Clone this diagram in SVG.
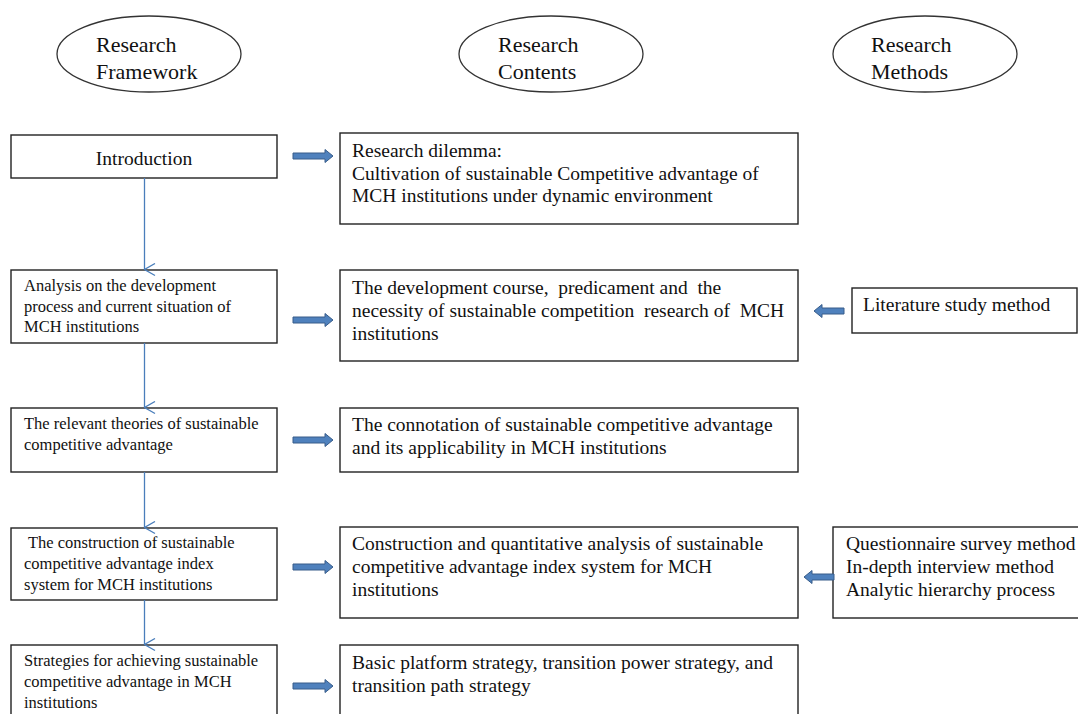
<svg xmlns="http://www.w3.org/2000/svg" width="1078" height="714" viewBox="0 0 1078 714" font-family="'Liberation Serif', 'Times New Roman', 'DejaVu Serif', serif">
<style>
.bg{fill:#fff}
.ell{fill:#fff;stroke:#333;stroke-width:1.3}
.box{fill:#fff;stroke:#222;stroke-width:1.4}
text{font-family:'Liberation Serif','Times New Roman','DejaVu Serif',serif;fill:#111}
.big{font-size:22px}
.mid{font-size:19.5px}
.sm{font-size:16.5px}
.conn{stroke:#4a7ebb;stroke-width:1.3;fill:none}
.blk{fill:#4f81bd;stroke:#385d8a;stroke-width:1}
</style>
<defs>
<marker id="v" markerWidth="14" markerHeight="12" refX="6.5" refY="11" orient="auto" markerUnits="userSpaceOnUse" viewBox="0 0 14 12">
<path d="M0.5,0.5 L6.5,11 L12.5,0.5" fill="none" stroke="#4a7ebb" stroke-width="1.3"/>
</marker>
<path id="ra" d="M0,-3 H32 V-6.5 L40,0 L32,6.5 V3 H0 Z"/>
<path id="la" d="M0,0 L8,-6.5 V-3 H30 V3 H8 V6.5 Z"/>
</defs>
<rect class="bg" x="0" y="0" width="1078" height="714"/>

<g id="hdr-framework">
<ellipse class="ell" cx="149" cy="54" rx="92" ry="38"/>
<text class="t big" x="96" y="52">Research</text>
<text class="t big" x="96" y="79">Framework</text>
</g>
<g id="hdr-contents">
<ellipse class="ell" cx="551" cy="54" rx="92" ry="38"/>
<text class="t big" x="498" y="52">Research</text>
<text class="t big" x="498" y="79">Contents</text>
</g>
<g id="hdr-methods">
<ellipse class="ell" cx="925" cy="54" rx="92" ry="38"/>
<text class="t big" x="871" y="52">Research</text>
<text class="t big" x="871" y="79">Methods</text>
</g>

<g id="f-intro">
<rect class="box" x="11" y="135" width="266" height="43"/>
<text class="t mid" x="144" y="165" text-anchor="middle">Introduction</text>
</g>
<g id="f-analysis">
<rect class="box" x="11" y="270" width="266" height="73"/>
<text class="t sm" x="24" y="291">Analysis on the development</text>
<text class="t sm" x="24" y="312">process and current situation of</text>
<text class="t sm" x="24" y="332">MCH institutions</text>
</g>
<g id="f-theories">
<rect class="box" x="11" y="408" width="266" height="64"/>
<text class="t sm" x="24" y="429">The relevant theories of sustainable</text>
<text class="t sm" x="24" y="450">competitive advantage</text>
</g>
<g id="f-construction">
<rect class="box" x="11" y="528" width="266" height="72"/>
<text class="t sm" x="28" y="548">The construction of sustainable</text>
<text class="t sm" x="24" y="569">competitive advantage index</text>
<text class="t sm" x="24" y="590">system for MCH institutions</text>
</g>
<g id="f-strategies">
<rect class="box" x="11" y="645" width="266" height="80"/>
<text class="t sm" x="24" y="666">Strategies for achieving sustainable</text>
<text class="t sm" x="24" y="687">competitive advantage in MCH</text>
<text class="t sm" x="24" y="708">institutions</text>
</g>

<g id="c-dilemma">
<rect class="box" x="340" y="133" width="458" height="91"/>
<text class="t mid" x="352" y="157">Research dilemma:</text>
<text class="t mid" x="352" y="180">Cultivation of sustainable Competitive advantage of</text>
<text class="t mid" x="352" y="202">MCH institutions under dynamic environment</text>
</g>
<g id="c-development">
<rect class="box" x="340" y="270" width="458" height="91"/>
<text class="t mid" x="352" y="294" xml:space="preserve">The development course,  predicament and  the</text>
<text class="t mid" x="352" y="317" xml:space="preserve">necessity of sustainable competition  research of  MCH</text>
<text class="t mid" x="352" y="340">institutions</text>
</g>
<g id="c-connotation">
<rect class="box" x="340" y="408" width="458" height="64"/>
<text class="t mid" x="352" y="431">The connotation of sustainable competitive advantage</text>
<text class="t mid" x="352" y="454">and its applicability in MCH institutions</text>
</g>
<g id="c-construction">
<rect class="box" x="340" y="527" width="458" height="91"/>
<text class="t mid" x="352" y="550">Construction and quantitative analysis of sustainable</text>
<text class="t mid" x="352" y="573">competitive advantage index system for MCH</text>
<text class="t mid" x="352" y="596">institutions</text>
</g>
<g id="c-strategy">
<rect class="box" x="340" y="645" width="458" height="80"/>
<text class="t mid" x="352" y="669">Basic platform strategy, transition power strategy, and</text>
<text class="t mid" x="352" y="692">transition path strategy</text>
</g>

<g id="m-literature">
<rect class="box" x="852" y="288" width="225" height="45"/>
<text class="t mid" x="863" y="311">Literature study method</text>
</g>
<g id="m-survey">
<rect class="box" x="833" y="527" width="260" height="91"/>
<text class="t mid" x="846" y="550">Questionnaire survey method</text>
<text class="t mid" x="846" y="573">In-depth interview method</text>
<text class="t mid" x="846" y="596">Analytic hierarchy process</text>
</g>

<g id="connectors">
<line class="conn" x1="144.5" y1="178" x2="144.5" y2="269.5" marker-end="url(#v)"/>
<line class="conn" x1="144.5" y1="343" x2="144.5" y2="407.5" marker-end="url(#v)"/>
<line class="conn" x1="144.5" y1="472" x2="144.5" y2="527.5" marker-end="url(#v)"/>
<line class="conn" x1="144.5" y1="600" x2="144.5" y2="644.5" marker-end="url(#v)"/>
<use href="#ra" class="blk" x="293" y="156"/>
<use href="#ra" class="blk" x="293" y="320"/>
<use href="#ra" class="blk" x="293" y="440"/>
<use href="#ra" class="blk" x="293" y="567"/>
<use href="#ra" class="blk" x="293" y="686"/>
<use href="#la" class="blk" x="814" y="311"/>
<use href="#la" class="blk" x="804" y="577"/>
</g>
</svg>
